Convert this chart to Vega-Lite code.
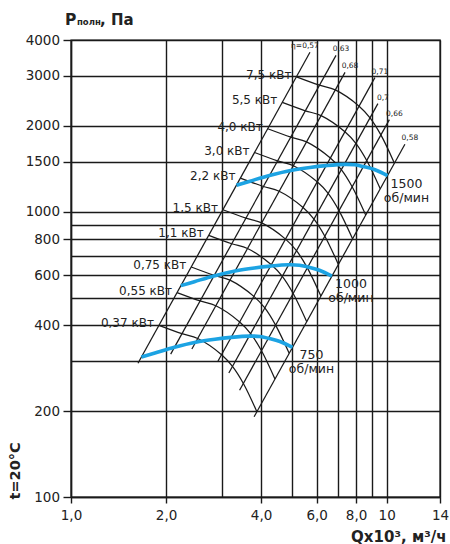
{
  "$schema": "https://vega.github.io/schema/vega-lite/v6.json",
  "width": 369,
  "height": 457,
  "autosize": {"type": "none"},
  "padding": {"left": 71, "top": 40, "right": 10, "bottom": 47},
  "background": "white",
  "config": {
    "font": "DejaVu Sans",
    "view": {"stroke": "#1a1a1a", "strokeWidth": 1.4},
    "text": {"font": "DejaVu Sans", "color": "#222222"}
  },
  "datasets": {
    "speed": [
      {"rpm": 1500, "q": 3.344, "p": 1239}, {"rpm": 1500, "q": 3.690, "p": 1280}, {"rpm": 1500, "q": 4.254, "p": 1340},
      {"rpm": 1500, "q": 4.965, "p": 1395}, {"rpm": 1500, "q": 5.716, "p": 1430}, {"rpm": 1500, "q": 6.432, "p": 1451},
      {"rpm": 1500, "q": 7.340, "p": 1466}, {"rpm": 1500, "q": 7.937, "p": 1461}, {"rpm": 1500, "q": 8.438, "p": 1440},
      {"rpm": 1500, "q": 9.182, "p": 1404}, {"rpm": 1500, "q": 10.06, "p": 1338},
      {"rpm": 1000, "q": 2.229, "p": 550.7}, {"rpm": 1000, "q": 2.460, "p": 568.7}, {"rpm": 1000, "q": 2.836, "p": 595.6},
      {"rpm": 1000, "q": 3.310, "p": 620.0}, {"rpm": 1000, "q": 3.811, "p": 635.4}, {"rpm": 1000, "q": 4.288, "p": 644.9},
      {"rpm": 1000, "q": 4.893, "p": 651.6}, {"rpm": 1000, "q": 5.291, "p": 649.4}, {"rpm": 1000, "q": 5.625, "p": 640.0},
      {"rpm": 1000, "q": 6.121, "p": 623.8}, {"rpm": 1000, "q": 6.707, "p": 594.7},
      {"rpm": 750, "q": 1.672, "p": 309.8}, {"rpm": 750, "q": 1.845, "p": 319.9}, {"rpm": 750, "q": 2.127, "p": 335.0},
      {"rpm": 750, "q": 2.483, "p": 348.8}, {"rpm": 750, "q": 2.858, "p": 357.4}, {"rpm": 750, "q": 3.216, "p": 362.8},
      {"rpm": 750, "q": 3.670, "p": 366.5}, {"rpm": 750, "q": 3.969, "p": 365.3}, {"rpm": 750, "q": 4.219, "p": 360.0},
      {"rpm": 750, "q": 4.591, "p": 350.9}, {"rpm": 750, "q": 5.030, "p": 334.5}
    ],
    "etaLines": [
      {"eta": "0,57", "q": 1.630, "p": 294.5}, {"eta": "0,57", "q": 5.715, "p": 3622},
      {"eta": "0,63", "q": 2.069, "p": 316.9}, {"eta": "0,63", "q": 6.910, "p": 3534},
      {"eta": "0,68", "q": 2.415, "p": 330.2}, {"eta": "0,68", "q": 7.379, "p": 3081},
      {"eta": "0,71", "q": 2.917, "p": 298.5}, {"eta": "0,71", "q": 9.174, "p": 2952},
      {"eta": "0,7", "q": 3.162, "p": 272.2}, {"eta": "0,7", "q": 9.378, "p": 2393},
      {"eta": "0,66", "q": 3.420, "p": 236.6}, {"eta": "0,66", "q": 10.197, "p": 2104},
      {"eta": "0,58", "q": 3.802, "p": 191.1}, {"eta": "0,58", "q": 11.420, "p": 1724}
    ],
    "arcs": [
      {"kw": "0,37", "q": 1.899, "p": 399.6}, {"kw": "0,37", "q": 2.246, "p": 373.6}, {"kw": "0,37", "q": 2.520, "p": 359.4},
      {"kw": "0,37", "q": 2.999, "p": 315.4}, {"kw": "0,37", "q": 3.247, "p": 287.1}, {"kw": "0,37", "q": 3.516, "p": 250.1},
      {"kw": "0,37", "q": 3.880, "p": 199.1},
      {"kw": "0,55", "q": 2.168, "p": 520.6}, {"kw": "0,55", "q": 2.563, "p": 486.7}, {"kw": "0,55", "q": 2.876, "p": 468.2},
      {"kw": "0,55", "q": 3.422, "p": 410.8}, {"kw": "0,55", "q": 3.706, "p": 374.0}, {"kw": "0,55", "q": 4.013, "p": 325.7},
      {"kw": "0,55", "q": 4.427, "p": 259.3},
      {"kw": "0,75", "q": 2.404, "p": 640.3}, {"kw": "0,75", "q": 2.843, "p": 598.4}, {"kw": "0,75", "q": 3.189, "p": 575.6},
      {"kw": "0,75", "q": 3.795, "p": 505.0}, {"kw": "0,75", "q": 4.111, "p": 459.9}, {"kw": "0,75", "q": 4.447, "p": 400.4},
      {"kw": "0,75", "q": 4.911, "p": 318.9},
      {"kw": "1,1", "q": 2.731, "p": 826.6}, {"kw": "1,1", "q": 3.229, "p": 772.3}, {"kw": "1,1", "q": 3.624, "p": 743.0},
      {"kw": "1,1", "q": 4.312, "p": 652.0}, {"kw": "1,1", "q": 4.670, "p": 593.6}, {"kw": "1,1", "q": 5.055, "p": 516.9},
      {"kw": "1,1", "q": 5.581, "p": 411.7},
      {"kw": "1,5", "q": 3.029, "p": 1016}, {"kw": "1,5", "q": 3.581, "p": 949.9}, {"kw": "1,5", "q": 4.019, "p": 913.8},
      {"kw": "1,5", "q": 4.782, "p": 801.8}, {"kw": "1,5", "q": 5.179, "p": 730.0}, {"kw": "1,5", "q": 5.607, "p": 635.9},
      {"kw": "1,5", "q": 6.188, "p": 506.1},
      {"kw": "2,2", "q": 3.440, "p": 1312}, {"kw": "2,2", "q": 4.070, "p": 1226}, {"kw": "2,2", "q": 4.564, "p": 1180},
      {"kw": "2,2", "q": 5.433, "p": 1035}, {"kw": "2,2", "q": 5.884, "p": 942.3}, {"kw": "2,2", "q": 6.369, "p": 820.9},
      {"kw": "2,2", "q": 7.030, "p": 653.4},
      {"kw": "3,0", "q": 3.815, "p": 1613}, {"kw": "3,0", "q": 4.511, "p": 1508}, {"kw": "3,0", "q": 5.064, "p": 1450},
      {"kw": "3,0", "q": 6.024, "p": 1273}, {"kw": "3,0", "q": 6.525, "p": 1159}, {"kw": "3,0", "q": 7.063, "p": 1009},
      {"kw": "3,0", "q": 7.796, "p": 803.5},
      {"kw": "4,0", "q": 4.200, "p": 1954}, {"kw": "4,0", "q": 4.967, "p": 1827}, {"kw": "4,0", "q": 5.574, "p": 1757},
      {"kw": "4,0", "q": 6.631, "p": 1542}, {"kw": "4,0", "q": 7.182, "p": 1404}, {"kw": "4,0", "q": 7.773, "p": 1223},
      {"kw": "4,0", "q": 8.581, "p": 973.4},
      {"kw": "5,5", "q": 4.670, "p": 2417}, {"kw": "5,5", "q": 5.524, "p": 2259}, {"kw": "5,5", "q": 6.197, "p": 2173},
      {"kw": "5,5", "q": 7.374, "p": 1907}, {"kw": "5,5", "q": 7.987, "p": 1736}, {"kw": "5,5", "q": 8.644, "p": 1512},
      {"kw": "5,5", "q": 9.541, "p": 1204},
      {"kw": "7,5", "q": 5.179, "p": 2972}, {"kw": "7,5", "q": 6.124, "p": 2778}, {"kw": "7,5", "q": 6.873, "p": 2673},
      {"kw": "7,5", "q": 8.177, "p": 2345}, {"kw": "7,5", "q": 8.855, "p": 2134}, {"kw": "7,5", "q": 9.585, "p": 1859},
      {"kw": "7,5", "q": 10.58, "p": 1480}
    ],
    "kwLabels": [
      {"t": "0,37 кВт", "q": 1.899, "p": 399.6}, {"t": "0,55 кВт", "q": 2.168, "p": 520.6},
      {"t": "0,75 кВт", "q": 2.404, "p": 640.3}, {"t": "1,1 кВт", "q": 2.731, "p": 826.6},
      {"t": "1,5 кВт", "q": 3.029, "p": 1016}, {"t": "2,2 кВт", "q": 3.440, "p": 1312},
      {"t": "3,0 кВт", "q": 3.815, "p": 1613}, {"t": "4,0 кВт", "q": 4.200, "p": 1954},
      {"t": "5,5 кВт", "q": 4.670, "p": 2417}, {"t": "7,5 кВт", "q": 5.179, "p": 2972}
    ],
    "speedLabels": [
      {"t": "1500\nоб/мин", "q": 10.06, "p": 1338},
      {"t": "1000\nоб/мин", "q": 6.707, "p": 594.7},
      {"t": "750\nоб/мин", "q": 5.030, "p": 334.5}
    ],
    "etaLabels": [
      {"t": "0,63", "q": 6.910, "p": 3534}, {"t": "0,68", "q": 7.379, "p": 3081},
      {"t": "0,71", "q": 9.174, "p": 2952}, {"t": "0,7", "q": 9.378, "p": 2393},
      {"t": "0,66", "q": 10.197, "p": 2104}, {"t": "0,58", "q": 11.420, "p": 1724}
    ]
  },
  "layer": [
    {
      "data": {"name": "etaLines"},
      "mark": {"type": "line", "color": "#1a1a1a", "strokeWidth": 1.25},
      "encoding": {
        "x": {
          "field": "q", "type": "quantitative",
          "scale": {"type": "log", "domain": [1, 14.753], "nice": false},
          "axis": {
            "values": [1, 2, 3, 4, 5, 6, 7, 8, 9, 10, 14.753],
            "grid": true, "gridColor": "#1a1a1a", "gridWidth": 1.4, "gridOpacity": 1,
            "domainColor": "#1a1a1a", "domainWidth": 1.4,
            "tickColor": "#1a1a1a", "tickWidth": 1.4, "tickSize": 6,
            "tickOpacity": {"condition": {"test": "indexof([1,2,4,6,8,10], datum.value) >= 0 || datum.value > 14", "value": 1}, "value": 0},
            "labelExpr": "datum.value > 14 ? '14' : datum.value == 10 ? '10' : indexof([1,2,4,6,8], datum.value) >= 0 ? replace(format(datum.value, '.1f'), '.', ',') : ''",
            "labelFont": "DejaVu Sans", "labelFontSize": 13.5, "labelColor": "#222222", "labelPadding": 5,
            "labelFlush": false, "labelOverlap": false, "labelBound": false,
            "title": "Qx10³, м³/ч", "titleFont": "DejaVu Sans", "titleFontSize": 15, "titleFontWeight": "bold",
            "titleColor": "#222222", "titleAlign": "right", "titleBaseline": "alphabetic", "titleX": 375, "titleY": 44
          }
        },
        "y": {
          "field": "p", "type": "quantitative",
          "scale": {"type": "log", "domain": [100, 4000], "nice": false},
          "axis": {
            "values": [100, 200, 300, 400, 500, 600, 700, 800, 900, 1000, 1500, 2000, 3000, 4000],
            "grid": true, "gridColor": "#1a1a1a", "gridWidth": 1.4, "gridOpacity": 1,
            "domainColor": "#1a1a1a", "domainWidth": 1.4,
            "tickColor": "#1a1a1a", "tickWidth": 1.4, "tickSize": 8,
            "tickOpacity": {"condition": {"test": "indexof([300,500,700,900], datum.value) >= 0", "value": 0}, "value": 1},
            "labelExpr": "indexof([300,500,700,900], datum.value) >= 0 ? '' : format(datum.value, 'd')",
            "labelFont": "DejaVu Sans", "labelFontSize": 13.5, "labelColor": "#222222", "labelPadding": 3.5,
            "labelOverlap": false, "labelBound": false, "labelFlush": false,
            "title": "t=20°C", "titleFont": "DejaVu Sans", "titleFontSize": 14.5, "titleFontWeight": "bold",
            "titleColor": "#222222", "titleAngle": 270, "titleAlign": "left", "titleBaseline": "middle",
            "titleX": -56, "titleY": 459
          }
        },
        "detail": {"field": "eta"}
      }
    },
    {
      "data": {"name": "arcs"},
      "mark": {"type": "line", "color": "#1a1a1a", "strokeWidth": 1.25, "interpolate": "catmull-rom"},
      "encoding": {
        "x": {"field": "q", "type": "quantitative"},
        "y": {"field": "p", "type": "quantitative"},
        "detail": {"field": "kw"}
      }
    },
    {
      "data": {"name": "speed"},
      "mark": {"type": "line", "color": "#1ca3e3", "strokeWidth": 3.6, "interpolate": "catmull-rom", "strokeCap": "butt"},
      "encoding": {
        "x": {"field": "q", "type": "quantitative"},
        "y": {"field": "p", "type": "quantitative"},
        "detail": {"field": "rpm"}
      }
    },
    {
      "data": {"name": "kwLabels"},
      "mark": {"type": "text", "align": "right", "baseline": "middle", "dx": -5, "dy": -2, "fontSize": 12},
      "encoding": {
        "x": {"field": "q", "type": "quantitative"},
        "y": {"field": "p", "type": "quantitative"},
        "text": {"field": "t"}
      }
    },
    {
      "data": {"name": "speedLabels"},
      "mark": {"type": "text", "align": "center", "baseline": "top", "dx": 19, "dy": 2, "fontSize": 12.5, "lineBreak": "\n", "lineHeight": 14},
      "encoding": {
        "x": {"field": "q", "type": "quantitative"},
        "y": {"field": "p", "type": "quantitative"},
        "text": {"field": "t"}
      }
    },
    {
      "data": {"name": "etaLabels"},
      "mark": {"type": "text", "align": "center", "baseline": "middle", "dx": 5, "dy": -6, "fontSize": 7.5},
      "encoding": {
        "x": {"field": "q", "type": "quantitative"},
        "y": {"field": "p", "type": "quantitative"},
        "text": {"field": "t"}
      }
    },
    {
      "data": {"values": [{"t": "η=0,57", "q": 5.715, "p": 3622}]},
      "mark": {"type": "text", "align": "center", "baseline": "middle", "dx": -5, "dy": -6, "fontSize": 7.5},
      "encoding": {
        "x": {"field": "q", "type": "quantitative"},
        "y": {"field": "p", "type": "quantitative"},
        "text": {"field": "t"}
      }
    },
    {
      "data": {"values": [{"q": 1, "p": 4000}]},
      "layer": [
        {"mark": {"type": "text", "align": "left", "baseline": "alphabetic", "dx": -6, "dy": -15, "fontSize": 15.5, "fontWeight": "bold", "text": "P"}},
        {"mark": {"type": "text", "align": "left", "baseline": "alphabetic", "dx": 6, "dy": -15, "fontSize": 8.5, "fontWeight": "bold", "text": "полн"}},
        {"mark": {"type": "text", "align": "left", "baseline": "alphabetic", "dx": 29, "dy": -15, "fontSize": 15, "fontWeight": "bold", "text": ", Па"}}
      ],
      "encoding": {
        "x": {"field": "q", "type": "quantitative"},
        "y": {"field": "p", "type": "quantitative"}
      }
    }
  ]
}
